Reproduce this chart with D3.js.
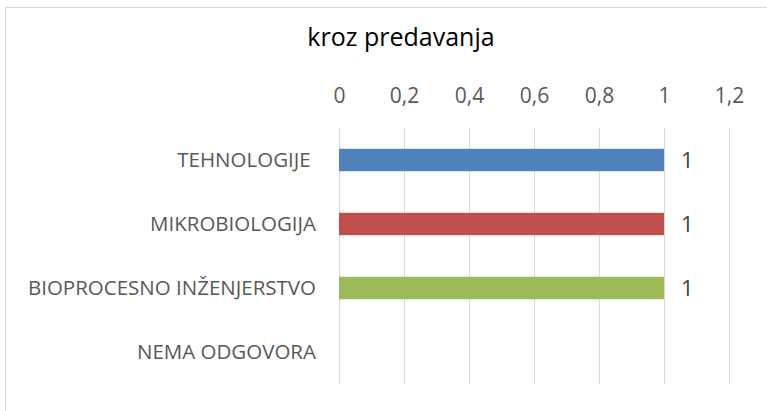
<!DOCTYPE html>
<html>
<head>
<meta charset="utf-8">
<script src="https://cdn.jsdelivr.net/npm/d3@7"></script>
<style>
  html, body { margin: 0; padding: 0; background: #fff; }
  svg { display: block; }
</style>
</head>
<body>
<svg id="chart" width="767" height="411"></svg>
<script>
// Chart data
const title = "kroz predavanja";
const categories = ["TEHNOLOGIJE ", "MIKROBIOLOGIJA", "BIOPROCESNO INŽENJERSTVO", "NEMA ODGOVORA"];
const values = [1, 1, 1, null];
const barColors = ["#4f81bd", "#c0504d", "#9bbb59", "#8064a2"];
const tickValues = [0, 0.2, 0.4, 0.6, 0.8, 1, 1.2];
const tickLabels = ["0", "0,2", "0,4", "0,6", "0,8", "1", "1,2"];

const FONT = '"Open Sans", "Noto Sans", sans-serif';
const svg = d3.select("#chart");
const W = 767, H = 411;

// Chart area frame
svg.append("rect")
  .attr("x", 5.5).attr("y", 7.5)
  .attr("width", W + 10).attr("height", H + 10)
  .attr("fill", "#fff").attr("stroke", "#d9d9d9").attr("stroke-width", 1);

const plot = { left: 339, right: 729, top: 128, bottom: 384 };

const x = d3.scaleLinear().domain([0, 1.2]).range([plot.left, plot.right]);
const y = d3.scaleBand().domain(categories).range([plot.top, plot.bottom]).paddingInner(0.65).paddingOuter(0.325);

// Title
svg.append("text")
  .attr("x", 401).attr("y", 46)
  .attr("text-anchor", "middle")
  .attr("font-size", 25).attr("fill", "#000")
  .style("font-family", FONT)
  .text(title);

// Vertical gridlines
svg.append("g").selectAll("line").data(tickValues).join("line")
  .attr("x1", d => Math.round(x(d)) + 0.5).attr("x2", d => Math.round(x(d)) + 0.5)
  .attr("y1", plot.top).attr("y2", plot.bottom)
  .attr("stroke", "#d9d9d9").attr("stroke-width", 1);

// Top value axis labels
const axis = d3.axisTop(x).tickValues(tickValues).tickFormat((d, i) => tickLabels[i]).tickSize(0).tickPadding(0);
const gAxis = svg.append("g").attr("transform", `translate(0,${103})`).call(axis);
gAxis.select(".domain").remove();
gAxis.selectAll("text").attr("font-size", 21).attr("fill", "#595959").attr("dy", 0)
  .style("font-family", FONT);

// Category labels
const yAxis = d3.axisLeft(y).tickSize(0).tickPadding(23);
const gY = svg.append("g").attr("transform", `translate(${plot.left},0)`).call(yAxis);
gY.select(".domain").remove();
gY.selectAll("text").attr("font-size", 20.5).attr("fill", "#595959").attr("dy", "0.36em")
  .style("white-space", "pre")
  .style("font-family", FONT);

// Bars
const rows = categories.map((c, i) => ({ c, v: values[i], color: barColors[i] })).filter(d => d.v != null);
svg.append("g").selectAll("rect").data(rows).join("rect")
  .attr("x", x(0)).attr("y", d => y(d.c))
  .attr("width", d => x(d.v) - x(0)).attr("height", y.bandwidth())
  .attr("fill", d => d.color);

// Value labels
svg.append("g").selectAll("text").data(rows).join("text")
  .attr("x", d => x(d.v) + 17).attr("y", d => y(d.c) + y.bandwidth() / 2)
  .attr("dy", "0.37em")
  .attr("font-size", 22).attr("fill", "#404040")
  .style("font-family", FONT)
  .text(d => String(d.v));
</script>
</body>
</html>
